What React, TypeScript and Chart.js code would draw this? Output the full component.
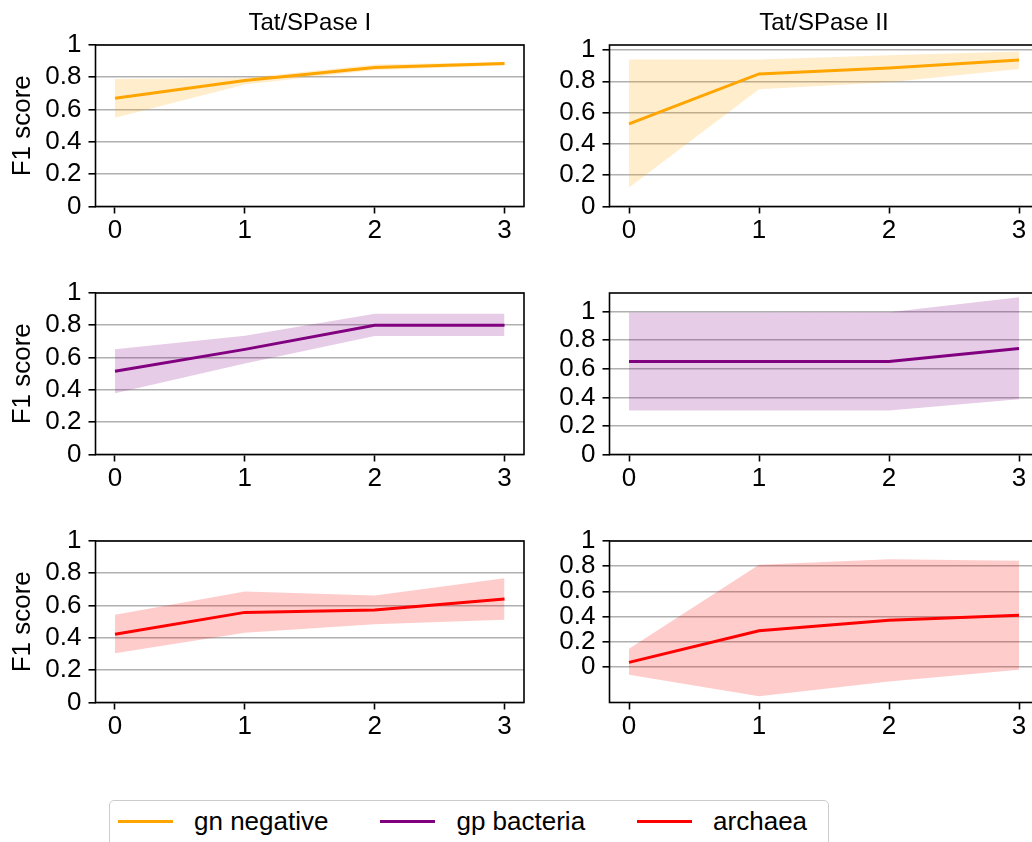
import React, { useEffect, useRef } from "react";
import { Chart, registerables } from "chart.js";

Chart.register(...registerables);

const FONT = '"Liberation Sans", Arial, Helvetica, sans-serif';

// ---------- data ----------
const xValues = [0, 1, 2, 3];
const xTickValues = [0, 1, 2, 3];
const yTickValues = [0, 0.2, 0.4, 0.6, 0.8, 1];
const columnTitles = ["Tat/SPase I", "Tat/SPase II"];
const yAxisLabel = "F1 score";
const groupNames = ["gn negative", "gp bacteria", "archaea"];
const groupColors = ["#FFA500", "#800080", "#FF0000"];
const groupFills = ["rgba(255,165,0,0.2)", "rgba(128,0,128,0.2)", "rgba(255,0,0,0.2)"];

// gn negative
const gnSp1Mean = [0.67, 0.78, 0.86, 0.885];
const gnSp1Lower = [0.55, 0.755, 0.845, 0.873];
const gnSp1Upper = [0.79, 0.795, 0.88, 0.895];
const gnSp2Mean = [0.528, 0.847, 0.885, 0.936];
const gnSp2Lower = [0.121, 0.749, 0.794, 0.879];
const gnSp2Upper = [0.94, 0.94, 0.967, 0.99];
// gp bacteria
const gpSp1Mean = [0.516, 0.651, 0.8, 0.8];
const gpSp1Lower = [0.38, 0.563, 0.734, 0.734];
const gpSp1Upper = [0.651, 0.736, 0.871, 0.871];
const gpSp2Mean = [0.65, 0.65, 0.65, 0.742];
const gpSp2Lower = [0.308, 0.308, 0.308, 0.387];
const gpSp2Upper = [0.993, 0.993, 0.995, 1.1];
// archaea
const arSp1Mean = [0.423, 0.558, 0.573, 0.641];
const arSp1Lower = [0.305, 0.432, 0.485, 0.512];
const arSp1Upper = [0.544, 0.687, 0.662, 0.77];
const arSp2Mean = [0.035, 0.287, 0.37, 0.41];
const arSp2Lower = [-0.064, -0.234, -0.117, -0.024];
const arSp2Upper = [0.144, 0.811, 0.854, 0.843];

const meanSeries = [
  [gnSp1Mean, gnSp2Mean],
  [gpSp1Mean, gpSp2Mean],
  [arSp1Mean, arSp2Mean],
];
const lowerSeries = [
  [gnSp1Lower, gnSp2Lower],
  [gpSp1Lower, gpSp2Lower],
  [arSp1Lower, arSp2Lower],
];
const upperSeries = [
  [gnSp1Upper, gnSp2Upper],
  [gpSp1Upper, gpSp2Upper],
  [arSp1Upper, arSp2Upper],
];
const yMins = [
  [0, 0],
  [0, 0],
  [0, -0.284],
];
const yMaxs = [
  [1, 1.032],
  [1, 1.13],
  [1, 1],
];

// ---------- layout ----------
const CANVAS_W = 540;
const CANVAS_H = 252;
const TOP_AREA = 45;
const X_AXIS_H = 45.5;
const TICK_FONT = 26;
const TITLE_FONT = 24;
const colCanvasLeft = [0, 520];
const colYAxisWidth = [95.5, 89.5];
const colPadRight = [16, 21.5];
const rowPlotTop = [45, 293, 541];

const spinePlugin = {
  id: "spines",
  afterDatasetsDraw(chart: any) {
    const { ctx, chartArea: a } = chart;
    ctx.save();
    ctx.strokeStyle = "#000";
    ctx.lineWidth = 1.6;
    ctx.strokeRect(a.left, a.top, a.right - a.left, a.bottom - a.top);
    ctx.restore();
  },
};

const panelTitlePlugin = {
  id: "panelTitle",
  afterDraw(chart: any, _args: any, opts: any) {
    if (!opts || !opts.text) return;
    const { ctx, chartArea: a } = chart;
    ctx.save();
    ctx.font = `normal ${TITLE_FONT}px ${FONT}`;
    ctx.fillStyle = "#000";
    ctx.textAlign = "center";
    ctx.textBaseline = "middle";
    ctx.fillText(opts.text, (a.left + a.right) / 2, a.top - 22);
    ctx.restore();
  },
};

const fmtY = (v: number) => {
  if (Math.abs(v) < 1e-9) return "0";
  if (Math.abs(v - 1) < 1e-9) return "1";
  return v.toFixed(1);
};

function Panel({ row, col }: { row: number; col: number }) {
  const ref = useRef<HTMLCanvasElement>(null);
  useEffect(() => {
    if (!ref.current) return;
    const toPts = (arr: number[]) => xValues.map((x, i) => ({ x, y: arr[i] }));
    const chart = new Chart(ref.current, {
      type: "line",
      data: {
        datasets: [
          {
            label: groupNames[row],
            data: toPts(meanSeries[row][col]),
            borderColor: groupColors[row],
            borderWidth: 3,
            pointRadius: 0,
            fill: false,
            tension: 0,
          },
          {
            label: "upper",
            data: toPts(upperSeries[row][col]),
            borderColor: "rgba(0,0,0,0)",
            borderWidth: 0,
            pointRadius: 0,
            backgroundColor: groupFills[row],
            fill: "+1",
            tension: 0,
          },
          {
            label: "lower",
            data: toPts(lowerSeries[row][col]),
            borderColor: "rgba(0,0,0,0)",
            borderWidth: 0,
            pointRadius: 0,
            fill: false,
            tension: 0,
          },
        ],
      },
      options: {
        animation: false,
        responsive: false,
        events: [],
        layout: {
          padding: { left: 0, right: colPadRight[col], top: TOP_AREA, bottom: 0 },
        },
        plugins: {
          legend: { display: false },
          tooltip: { enabled: false },
          title: { display: false },
          panelTitle: { text: row === 0 ? columnTitles[col] : "" },
        },
        scales: {
          x: {
            type: "linear",
            min: -0.15,
            max: 3.15,
            afterBuildTicks: (s: any) => {
              s.ticks = xTickValues.map((v) => ({ value: v }));
            },
            afterFit: (s: any) => {
              s.height = X_AXIS_H;
            },
            ticks: {
              color: "#000",
              font: { size: TICK_FONT, family: FONT },
              padding: 2,
              maxRotation: 0,
              autoSkip: false,
              callback: (v: any) => String(v),
            },
            grid: {
              drawOnChartArea: false,
              drawTicks: true,
              tickLength: 7,
              tickWidth: 1.6,
              tickColor: "#000",
              color: "#000",
            },
            border: { display: false },
          },
          y: {
            type: "linear",
            min: yMins[row][col],
            max: yMaxs[row][col],
            afterBuildTicks: (s: any) => {
              s.ticks = yTickValues.map((v) => ({ value: v }));
            },
            afterFit: (s: any) => {
              s.width = colYAxisWidth[col];
            },
            ticks: {
              color: "#000",
              font: { size: TICK_FONT, family: FONT },
              padding: 7,
              autoSkip: false,
              callback: (v: any) => fmtY(Number(v)),
            },
            grid: {
              color: "#b0b0b0",
              lineWidth: 1.6,
              drawTicks: true,
              tickLength: 7,
              tickWidth: 1.6,
              tickColor: "#000",
            },
            border: { display: false },
            title: {
              display: col === 0,
              text: yAxisLabel,
              color: "#000",
              font: { size: TICK_FONT, family: FONT },
              padding: { top: 7.4, bottom: 0 },
            },
          },
        },
      } as any,
      plugins: [spinePlugin, panelTitlePlugin],
    });
    return () => chart.destroy();
  }, [row, col]);

  return (
    <canvas
      ref={ref}
      width={CANVAS_W}
      height={CANVAS_H}
      style={{
        position: "absolute",
        left: colCanvasLeft[col],
        top: rowPlotTop[row] - TOP_AREA,
        width: CANVAS_W,
        height: CANVAS_H,
      }}
    />
  );
}

function Legend() {
  return (
    <div
      style={{
        position: "absolute",
        left: 109,
        top: 800,
        width: 720,
        height: 70,
        border: "1.5px solid #cccccc",
        borderRadius: 5,
        boxSizing: "border-box",
        background: "rgba(255,255,255,0.8)",
        fontFamily: FONT,
        fontSize: 26,
        color: "#000",
      }}
    >
      <div
        style={{
          position: "absolute",
          left: 0,
          top: 0,
          height: 40,
          display: "flex",
          alignItems: "center",
          whiteSpace: "nowrap",
        }}
      >
        {groupNames.map((name, i) => (
          <div key={name} style={{ display: "flex", alignItems: "center", marginLeft: i === 0 ? 8 : 52 }}>
            <div style={{ width: 55, height: 3, background: groupColors[i] }} />
            <span style={{ marginLeft: 21, lineHeight: "30px" }}>{name}</span>
          </div>
        ))}
      </div>
    </div>
  );
}

export default function App() {
  const panels = [];
  for (let r = 0; r < 3; r++) for (let c = 0; c < 2; c++) panels.push(<Panel key={`${r}-${c}`} row={r} col={c} />);
  return (
    <div
      style={{
        position: "absolute",
        left: 0,
        top: 0,
        width: 1032,
        height: 842,
        overflow: "hidden",
        background: "#fff",
      }}
    >
      {panels}
      <Legend />
    </div>
  );
}
